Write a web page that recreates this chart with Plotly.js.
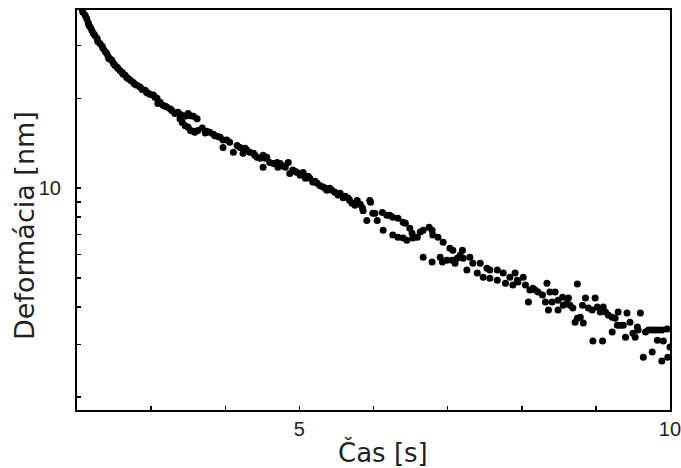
<!DOCTYPE html>
<html>
<head>
<meta charset="utf-8">
<script src="https://cdn.plot.ly/plotly-3.0.1.min.js"></script>
<style>html,body{margin:0;padding:0;background:#fff;}#chart{width:681px;height:468px;}</style>
</head>
<body>
<div id="chart"></div>
<script>
// Time [s]
var timeS = [
2.07,2.08,2.11,2.13,2.15,2.16,2.18,2.20,2.22,2.24,2.27,2.28,2.31,2.34,2.35,2.38,2.40,2.42,2.43,2.45,
2.47,2.49,2.51,2.54,2.55,2.58,2.61,2.62,2.65,2.67,2.69,2.72,2.76,2.78,2.81,2.85,2.88,2.92,2.94,2.96,
2.99,3.03,3.05,3.08,3.09,3.12,3.16,3.19,3.21,3.26,3.28,3.32,3.36,3.39,3.43,3.46,3.50,3.53,3.57,3.62,
3.39,3.42,3.46,3.50,3.53,3.57,3.59,3.63,3.69,3.73,3.75,3.79,3.84,3.86,3.90,3.93,3.97,
3.97,4.02,4.06,4.11,4.16,4.20,4.24,4.27,4.29,4.33,4.38,4.40,4.43,4.47,4.51,4.51,4.54,4.56,4.60,4.65,
4.70,4.71,4.74,4.77,4.81,4.85,4.87,4.91,4.94,4.97,5.01,5.05,5.08,5.12,5.14,5.18,5.21,5.24,5.28,5.32,
5.35,5.37,5.41,5.44,5.48,5.52,5.55,5.59,5.62,5.66,5.68,5.71,5.75,5.78,5.82,5.85,5.86,5.91,5.95,6.02,
5.96,5.99,6.05,6.12,6.18,6.22,6.26,6.33,6.40,6.43,6.49,6.52,6.59,6.63,6.67,6.75,6.79,6.80,6.87,6.94,
7.03,7.07,7.20,7.17,7.13,7.21,7.30,7.34,7.44,7.53,7.57,7.67,7.75,7.84,7.94,
6.13,6.26,6.33,6.40,6.45,6.53,6.67,6.79,6.90,6.93,6.99,7.06,7.10,7.26,7.40,7.48,7.57,7.67,7.78,7.88,
7.91,7.95,8.02,8.05,8.09,8.11,8.15,8.18,8.22,8.28,8.32,8.34,8.36,8.38,8.41,8.45,8.49,8.49,8.55,8.56,
8.61,8.63,8.65,8.69,8.72,8.75,8.75,8.79,8.82,8.83,8.86,8.90,8.95,8.96,8.99,9.02,9.06,9.09,9.10,9.13,
9.17,9.22,9.22,9.26,9.29,9.30,9.33,9.37,9.40,9.42,9.46,9.50,9.53,9.56,9.57,9.60,9.64,9.67,9.71,9.76,
9.76,9.80,9.83,9.84,9.89,9.89,9.91,9.96,9.97,10.0
];
// Deformation [nm]
var deformNm = [
39.7,38.8,37.9,37.0,35.9,35.1,34.6,33.8,33.0,32.5,31.8,31.0,30.5,29.9,29.4,28.7,28.3,27.6,27.2,27.0,
26.8,26.2,25.8,25.4,25.2,24.8,24.4,24.1,23.9,23.5,23.3,23.0,22.6,22.3,22.1,21.8,21.4,21.3,20.9,20.8,
20.6,20.5,20.15,20.0,19.2,19.4,18.95,18.8,18.7,18.4,18.2,17.8,17.96,17.7,17.5,17.4,17.8,17.5,17.4,17.1,
17.1,16.6,16.2,16.0,15.6,15.5,15.4,15.6,15.9,15.3,15.5,15.4,15.15,15.0,14.9,14.8,14.5,
13.7,14.5,14.25,13.2,13.9,13.7,13.1,13.6,13.4,13.2,13.1,12.9,12.7,12.6,12.9,11.75,12.6,12.7,12.2,12.1,
12.2,11.75,12.1,11.9,11.75,12.2,11.2,11.5,11.4,11.3,11.05,11.3,10.8,10.97,10.8,10.5,10.55,10.4,10.2,10.1,
10.0,9.85,10.0,9.85,9.7,9.5,9.62,9.3,9.4,9.26,9.1,8.9,8.77,9.1,8.84,8.6,8.4,7.8,9.1,8.25,
8.98,8.25,7.8,8.3,8.12,8.12,8.0,7.94,7.7,7.64,7.35,7.07,6.86,7.13,7.24,7.4,7.24,6.97,6.86,6.6,
6.3,6.2,6.2,5.97,5.83,5.83,5.88,5.61,5.61,5.4,5.32,5.32,5.2,5.04,4.92,
7.24,6.97,6.86,6.81,6.7,6.81,5.88,5.66,5.88,5.66,5.74,5.74,5.61,5.32,5.2,5.04,5.0,4.92,4.81,4.74,
5.2,4.85,5.04,4.74,4.16,4.56,4.63,4.56,4.49,4.39,4.16,4.81,3.91,4.49,4.16,4.49,4.22,3.91,4.32,4.06,
4.12,4.29,4.06,3.97,3.56,4.78,3.67,3.70,4.06,3.54,4.29,3.97,3.91,3.08,4.29,4.0,3.85,3.08,4.0,3.85,
3.76,3.70,3.30,3.67,3.48,3.85,3.48,3.48,3.17,3.82,3.56,3.27,3.17,3.43,3.35,3.82,2.72,3.30,3.35,3.35,
2.83,3.35,3.10,3.35,3.35,2.64,3.08,3.38,2.72,2.94
];
var xTickVals = [3,4,5,6,7,8,9,10];
var xTickText = ['','','5','','','','','10'];
var yTickVals = [2,3,4,5,6,7,8,9,10,20,30];
var yTickText = ['','','','','','','','','10','',''];
var xTitle = 'Čas [s]';
var yTitle = 'Deformácia [nm]';

var trace = {
  x: timeS, y: deformNm, type: 'scatter', mode: 'markers',
  marker: {color: '#000', size: 7, line: {width: 0}},
  hoverinfo: 'skip', showlegend: false, cliponaxis: true
};
var layout = {
  width: 681, height: 468,
  margin: {l: 77, r: 11, t: 10, b: 58, pad: 0},
  paper_bgcolor: '#fff', plot_bgcolor: '#fff',
  font: {family: 'Liberation Sans, Arial, sans-serif', color: '#000'},
  xaxis: {
    type: 'linear', range: [1.9999, 10.0001], showgrid: false, zeroline: false,
    showline: true, linecolor: '#000', linewidth: 2, mirror: true,
    ticks: 'inside', ticklen: 4, tickwidth: 1.5, tickcolor: '#000',
    tickvals: xTickVals, ticktext: xTickText,
    tickfont: {size: 20, family: 'Liberation Sans, Arial, sans-serif', color: '#222'},
    ticklabelstandoff: 0, ticklabeloverflow: 'allow'
  },
  yaxis: {
    type: 'log', range: [Math.log10(1.81), Math.log10(39.5)], showgrid: false, zeroline: false,
    showline: true, linecolor: '#000', linewidth: 2, mirror: true,
    ticks: 'inside', ticklen: 4, tickwidth: 1.5, tickcolor: '#000',
    tickvals: yTickVals, ticktext: yTickText,
    tickfont: {size: 20, family: 'Liberation Sans, Arial, sans-serif', color: '#222'},
    ticklabelstandoff: 10
  },
  annotations: [
    {text: xTitle, xref: 'paper', yref: 'paper', x: (383-77)/593, y: -(452-410)/400,
     xanchor: 'center', yanchor: 'middle', showarrow: false,
     font: {family: 'DejaVu Sans, Verdana, sans-serif', size: 26, color: '#222'}},
    {text: yTitle, xref: 'paper', yref: 'paper', x: -(77-24)/593, y: (410-226)/400,
     xanchor: 'center', yanchor: 'middle', showarrow: false, textangle: -90,
     font: {family: 'DejaVu Sans, Verdana, sans-serif', size: 27, color: '#222'}}
  ]
};
Plotly.newPlot('chart', [trace], layout, {displayModeBar: false, staticPlot: true});
</script>
</body>
</html>
